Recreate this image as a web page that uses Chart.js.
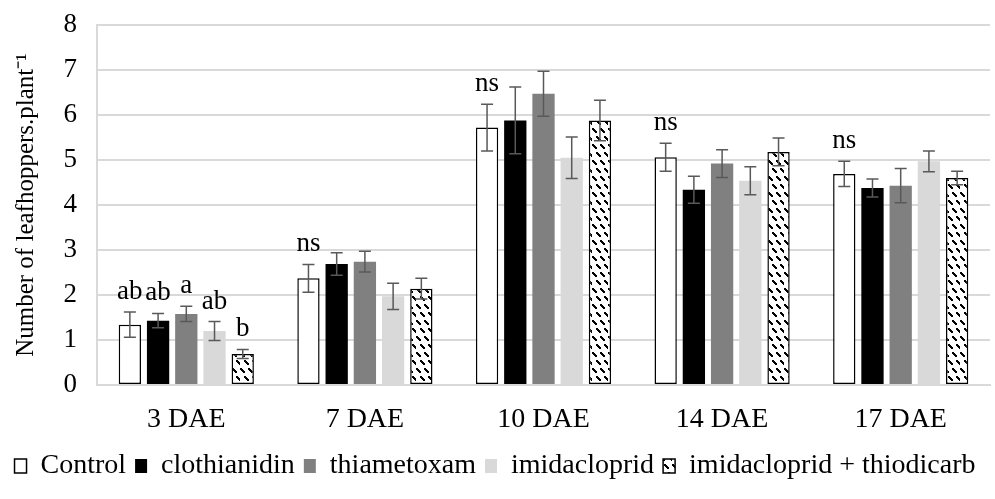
<!DOCTYPE html>
<html>
<head>
<meta charset="utf-8">
<script src="https://cdn.jsdelivr.net/npm/chart.js@4/dist/chart.umd.min.js"></script>
<style>
  html, body { margin: 0; padding: 0; background: #ffffff; }
  #wrap { width: 995px; height: 499px; }
</style>
</head>
<body>
<div id="wrap"><canvas id="c" width="995" height="499"></canvas></div>
<script>
const categories = ['3 DAE', '7 DAE', '10 DAE', '14 DAE', '17 DAE'];
const seriesNames = ['Control', 'clothianidin', 'thiametoxam', 'imidacloprid', 'imidacloprid + thiodicarb'];

const controlValues      = [1.34, 2.37, 5.72, 5.06, 4.69];
const clothianidinValues = [1.43, 2.69, 5.88, 4.34, 4.38];
const thiametoxamValues  = [1.58, 2.74, 6.47, 4.92, 4.43];
const imidaclopridValues = [1.20, 1.97, 5.05, 4.54, 4.97];
const comboValues        = [0.69, 2.14, 5.88, 5.18, 4.60];

const controlErrors      = [0.28, 0.31, 0.52, 0.31, 0.28];
const clothianidinErrors = [0.16, 0.25, 0.74, 0.30, 0.20];
const thiametoxamErrors  = [0.17, 0.23, 0.50, 0.31, 0.38];
const imidaclopridErrors = [0.21, 0.29, 0.46, 0.31, 0.23];
const comboErrors        = [0.10, 0.23, 0.45, 0.31, 0.15];

// significance letters per category, one per series ('' = none)
const letters = [
  ['ab', 'ab', 'a', 'ab', 'b'],
  ['ns', '', '', '', ''],
  ['ns', '', '', '', ''],
  ['ns', '', '', '', ''],
  ['ns', '', '', '', '']
];

const yTicks = [0, 1, 2, 3, 4, 5, 6, 7, 8];

const FONT = '"Liberation Serif", "Times New Roman", Times, serif';

function makeHatch() {
  const t = document.createElement('canvas');
  t.width = 16; t.height = 16;
  const g = t.getContext('2d');
  g.fillStyle = '#ffffff';
  g.fillRect(0, 0, 16, 16);
  g.fillStyle = '#000000';
  const starts = [[0, 0], [8, 0], [4, 8], [12, 8]];
  starts.forEach(s => {
    for (let k = 0; k < 4; k++) {
      g.fillRect((s[0] + k) % 16, (s[1] + k) % 16, 2, 2);
    }
  });
  return g.createPattern(t, 'repeat');
}
const ctx = document.getElementById('c').getContext('2d');
const hatch = makeHatch();

const valueSets = [controlValues, clothianidinValues, thiametoxamValues, imidaclopridValues, comboValues];
const errorSets = [controlErrors, clothianidinErrors, thiametoxamErrors, imidaclopridErrors, comboErrors];
const fills   = ['#ffffff', '#000000', '#808080', '#d9d9d9', hatch];
const borders = ['#000000', '#000000', '#808080', '#d9d9d9', '#000000'];
const bw      = [1.5, 0, 0, 0, 1.5];

const datasets = seriesNames.map((name, i) => ({
  label: name,
  data: valueSets[i],
  errors: errorSets[i],
  backgroundColor: fills[i],
  borderColor: borders[i],
  borderWidth: bw[i],
  borderSkipped: false,
  categoryPercentage: 0.79,
  barPercentage: 0.79
}));

const errorBarPlugin = {
  id: 'errorBars',
  afterDatasetsDraw(chart) {
    const c = chart.ctx;
    const yScale = chart.scales.y;
    c.save();
    c.strokeStyle = '#595959';
    c.lineWidth = 1.5;
    chart.data.datasets.forEach((ds, di) => {
      const meta = chart.getDatasetMeta(di);
      meta.data.forEach((bar, idx) => {
        const v = ds.data[idx], e = ds.errors[idx];
        const x = bar.x;
        const yt = yScale.getPixelForValue(v + e);
        const yb = yScale.getPixelForValue(v - e);
        const hw = 6;
        c.beginPath();
        c.moveTo(x, yt); c.lineTo(x, yb);
        c.moveTo(x - hw, yt); c.lineTo(x + hw, yt);
        c.moveTo(x - hw, yb); c.lineTo(x + hw, yb);
        c.stroke();
      });
    });
    c.fillStyle = '#000000';
    c.font = '27px ' + FONT;
    c.textAlign = 'center';
    c.textBaseline = 'alphabetic';
    chart.data.datasets.forEach((ds, di) => {
      const meta = chart.getDatasetMeta(di);
      meta.data.forEach((bar, idx) => {
        const txt = letters[idx][di];
        if (!txt) return;
        const yt = yScale.getPixelForValue(ds.data[idx] + ds.errors[idx]);
        c.fillText(txt, bar.x, yt - 13);
      });
    });
    c.restore();
  }
};

new Chart(ctx, {
  type: 'bar',
  data: { labels: categories, datasets: datasets },
  options: {
    responsive: false,
    animation: false,
    devicePixelRatio: 1,
    layout: { padding: { top: 25, right: 5, bottom: 9, left: 0 } },
    plugins: {
      tooltip: { enabled: false },
      legend: {
        position: 'bottom',
        labels: {
          color: '#000000',
          font: { family: FONT, size: 28 },
          boxWidth: 12,
          boxHeight: 14,
          padding: 9
        }
      }
    },
    scales: {
      x: {
        grid: { display: false },
        border: { display: true, color: '#d9d9d9', width: 2 },
        ticks: { color: '#000000', font: { family: FONT, size: 28 }, padding: 10 },
        afterFit(s) { s.height = 58; }
      },
      y: {
        min: 0, max: 8,
        afterBuildTicks(s) { s.ticks = yTicks.map(v => ({ value: v })); },
        grid: { color: '#d9d9d9', lineWidth: 2, drawTicks: false },
        border: { display: true, color: '#d9d9d9', width: 2 },
        ticks: { color: '#000000', font: { family: FONT, size: 27 }, padding: 20 },
        title: {
          display: true,
          text: 'Number of leafhoppers.plant\u207B\u00B9',
          color: '#000000',
          font: { family: FONT, size: 25 },
          padding: { top: 11, bottom: 0 }
        },
        afterFit(s) { s.width = 97; s.paddingTop = 0; s.paddingBottom = 0; }
      }
    }
  },
  plugins: [errorBarPlugin]
});
</script>
</body>
</html>
